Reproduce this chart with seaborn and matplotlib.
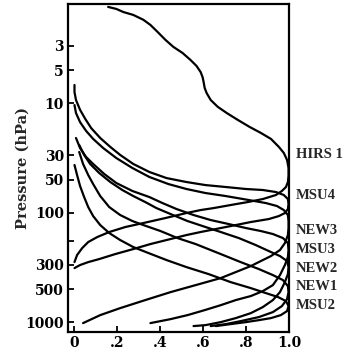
import matplotlib
matplotlib.use("Agg")
import matplotlib.pyplot as plt
import seaborn as sns
import pandas as pd
from matplotlib.ticker import FixedLocator, NullLocator

# ---- data (x = normalized weight, p = pressure hPa) ----
hirs1_x = [0.157, 0.195, 0.228, 0.274, 0.321, 0.354, 0.387, 0.424, 0.461, 0.504, 0.541, 0.569,
           0.588, 0.597, 0.602, 0.607, 0.616, 0.635, 0.668, 0.710, 0.761, 0.817, 0.869, 0.916,
           0.953, 0.976, 0.991, 0.998, 0.998, 0.995, 0.986, 0.967, 0.939, 0.878, 0.808, 0.728,
           0.649, 0.588, 0.522, 0.424, 0.321, 0.237, 0.162, 0.106, 0.064, 0.036, 0.012, 0.0]
hirs1_p = [1.32, 1.377, 1.47, 1.562, 1.73, 1.928, 2.23, 2.64, 3.06, 3.48, 4.03, 4.57,
           5.19, 5.76, 6.40, 7.26, 8.07, 9.35, 10.8, 12.3, 14.2, 16.5, 18.7, 21.2,
           25.1, 28.5, 33.0, 39.1, 46.2, 52.5, 58.3, 63.4, 69.0, 75.1, 80.0, 85.2,
           90.8, 94.7, 100.8, 112.0, 124.4, 135.3, 150.3, 167.1, 185.6, 210.6, 244, 283]

msu4_x = [0.0, 0.0, 0.007, 0.026, 0.050, 0.078, 0.120, 0.167, 0.213, 0.274, 0.349, 0.429,
          0.522, 0.611, 0.705, 0.799, 0.878, 0.939, 0.976, 0.995, 0.998, 0.995, 0.981, 0.953,
          0.906, 0.822, 0.752, 0.682, 0.588, 0.522, 0.429, 0.354, 0.274, 0.190, 0.115, 0.064,
          0.026, 0.0]
msu4_p = [6.82, 7.90, 9.35, 11.5, 13.9, 16.9, 20.8, 25.1, 29.7, 35.9, 42.5, 48.3,
          52.5, 56.0, 58.3, 60.8, 62.1, 64.8, 69.0, 75.1, 83.4, 92.7, 100.8, 107.4,
          114.4, 121.8, 129.8, 138.2, 150.3, 160.2, 177.9, 193.6, 215.1, 239.0, 265.5, 283,
          301, 321]

new3_x = [0.0, 0.007, 0.026, 0.054, 0.087, 0.134, 0.195, 0.270, 0.349, 0.438, 0.522, 0.611,
          0.705, 0.813, 0.892, 0.944, 0.976, 0.995, 0.998, 0.998, 0.995, 0.981, 0.958, 0.916,
          0.869, 0.822, 0.752, 0.682, 0.565, 0.448, 0.330, 0.213, 0.120, 0.040]
new3_p = [10.4, 12.3, 14.9, 17.9, 21.2, 25.7, 31.7, 39.1, 47.2, 54.8, 60.8, 66.2,
          70.5, 76.7, 81.7, 87.0, 94.7, 105.1, 119.3, 138.2, 160.2, 189.6, 219.6, 249.2,
          276.7, 307.6, 349, 396, 459, 532, 629, 745, 863, 1021]

msu3_x = [0.007, 0.026, 0.054, 0.087, 0.139, 0.195, 0.270, 0.349, 0.410, 0.476, 0.555, 0.635,
          0.719, 0.799, 0.869, 0.925, 0.972, 0.995, 0.998, 0.995, 0.981, 0.958, 0.925, 0.878,
          0.822, 0.752, 0.682, 0.607, 0.527, 0.448, 0.354]
msu3_p = [20.8, 25.7, 31.0, 35.9, 44.4, 53.6, 63.4, 72.0, 81.7, 92.7, 105.1, 116.8,
          127.1, 138.2, 147.2, 156.8, 170.6, 189.6, 219.6, 254.6, 301, 372, 459, 521,
          578, 629, 700, 777, 863, 939, 1021]

new2_x = [0.022, 0.045, 0.073, 0.115, 0.167, 0.223, 0.274, 0.330, 0.382, 0.448, 0.527, 0.611,
          0.682, 0.766, 0.845, 0.906, 0.958, 0.991, 0.998, 0.995, 0.981, 0.958, 0.925, 0.878,
          0.822, 0.752, 0.682, 0.611, 0.555]
new2_p = [24.1, 29.7, 35.9, 43.4, 52.5, 62.1, 70.5, 80.0, 90.8, 103.0, 119.3, 135.3,
          150.3, 170.6, 197.7, 224.4, 249.2, 276.7, 314.4, 364, 431, 532, 629, 729,
          828, 919, 1000, 1065, 1087]

new1_x = [0.022, 0.040, 0.064, 0.087, 0.120, 0.162, 0.213, 0.270, 0.321, 0.401, 0.480, 0.565,
          0.682, 0.775, 0.860, 0.925, 0.972, 0.995, 0.998, 0.991, 0.967, 0.925, 0.860, 0.775,
          0.705, 0.635]
new1_p = [27.9, 35.9, 45.3, 54.8, 70.5, 88.9, 105.1, 119.3, 129.8, 147.2, 170.6, 193.6,
          239.0, 283, 327.8, 372, 413, 469, 532, 617, 714, 810, 899, 979,
          1043, 1087]

msu2_x = [0.0, 0.012, 0.026, 0.045, 0.064, 0.087, 0.120, 0.162, 0.213, 0.274, 0.345, 0.429,
          0.522, 0.625, 0.728, 0.822, 0.892, 0.949, 0.986, 0.998, 0.991, 0.962, 0.916, 0.860,
          0.799, 0.728, 0.659]
msu2_p = [36.7, 45.3, 57.1, 72.0, 88.9, 107.4, 129.8, 153.5, 177.9, 206.2, 233.9, 271,
          314.4, 364, 431, 489, 543, 590, 643, 714, 793, 863, 919, 959,
          1000, 1043, 1087]

channels = ["HIRS 1", "MSU4", "NEW3", "MSU3", "NEW2", "NEW1", "MSU2"]
label_p = [29.7, 69.0, 147, 215, 321, 469, 700]

x_ticks = [0, 0.2, 0.4, 0.6, 0.8, 1.0]
x_ticklabels = ["0", ".2", ".4", ".6", ".8", "1.0"]
y_ticks = [3, 5, 10, 30, 50, 100, 180, 300, 500, 1000]
y_ticklabels = ["3", "5", "10", "30", "50", "100", "", "300", "500", "1000"]

series = {
    "HIRS 1": (hirs1_x, hirs1_p),
    "MSU4": (msu4_x, msu4_p),
    "NEW3": (new3_x, new3_p),
    "MSU3": (msu3_x, msu3_p),
    "NEW2": (new2_x, new2_p),
    "NEW1": (new1_x, new1_p),
    "MSU2": (msu2_x, msu2_p),
}

rows = []
for name, (xs, ps) in series.items():
    for i, (xv, pv) in enumerate(zip(xs, ps)):
        rows.append({"channel": name, "order": i, "x": xv, "p": pv})
df = pd.DataFrame(rows)

sns.set_style("ticks")
plt.rcParams["font.family"] = ["DejaVu Serif"]
plt.rcParams["font.weight"] = "bold"

fig = plt.figure(figsize=(3.49, 3.59), dpi=100)
ax = fig.add_axes([0.195, 0.075, 0.633, 0.914])

sns.lineplot(data=df, x="x", y="p", units="channel", estimator=None, sort=False,
             color="black", linewidth=1.6, ax=ax, legend=False)

ax.set_yscale("log")
ax.set_xlim(-0.03, 1.0)
ax.set_ylim(1233, 1.24)

ax.xaxis.set_major_locator(FixedLocator(x_ticks))
ax.set_xticklabels(x_ticklabels)
ax.yaxis.set_major_locator(FixedLocator(y_ticks))
ax.yaxis.set_minor_locator(NullLocator())
ax.set_yticklabels(y_ticklabels)

ax.tick_params(axis="both", direction="in", length=4, width=1.3, labelsize=10, pad=3,
               colors="black")
for lab in ax.get_xticklabels() + ax.get_yticklabels():
    lab.set_fontweight("bold")

for sp in ax.spines.values():
    sp.set_linewidth(1.6)
    sp.set_color("black")

ax.set_xlabel("")
ax.set_ylabel("Pressure (hPa)", fontsize=10.5, fontweight="bold")
ax.yaxis.set_label_coords(-0.175, 0.5)

for name, lp in zip(channels, label_p):
    ax.annotate(name, xy=(1.0, lp), xycoords=("axes fraction", "data"),
                xytext=(5, 0), textcoords="offset points", va="center", ha="left",
                fontsize=10.5, fontweight="bold", family=["Liberation Serif"],
                annotation_clip=False)

fig.savefig("out.png", dpi=100)
